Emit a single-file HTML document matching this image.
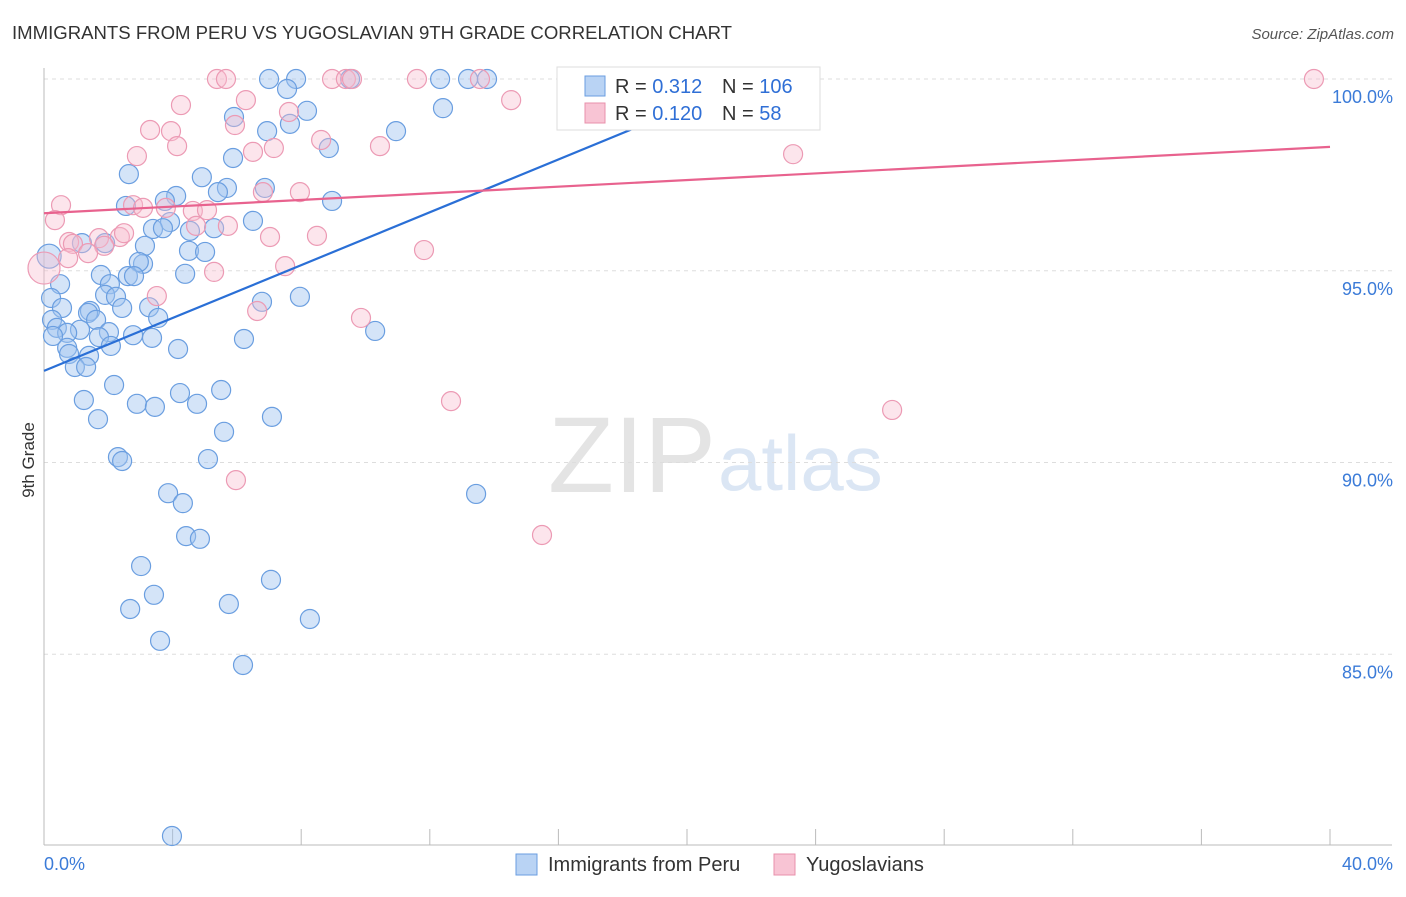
<!DOCTYPE html>
<html><head><meta charset="utf-8"><style>
body{margin:0;background:#fff;font-family:"Liberation Sans",sans-serif}
svg text{font-family:"Liberation Sans",sans-serif}
</style></head><body>
<svg width="1406" height="892" xmlns="http://www.w3.org/2000/svg" id="chart">
<text x="12" y="39" font-size="18" fill="#333" textLength="720" lengthAdjust="spacingAndGlyphs">IMMIGRANTS FROM PERU VS YUGOSLAVIAN 9TH GRADE CORRELATION CHART</text>
<text x="1394" y="39" font-size="15" fill="#555" font-style="italic" text-anchor="end">Source: ZipAtlas.com</text>
<text x="34" y="460" font-size="17" fill="#333" transform="rotate(-90 34 460)" text-anchor="middle">9th Grade</text>
<text x="716" y="492" font-size="108" fill="#e4e4e4" text-anchor="end" font-family="Liberation Serif">ZIP</text>
<text x="718" y="490" font-size="78" fill="#dbe6f4">atlas</text>
<g id="grid"></g><g id="axes"></g><g id="pts"></g><g id="lines"></g>
<g>
<rect x="557" y="67" width="263" height="63" fill="#fff" stroke="#ddd"/>
<rect x="585" y="76" width="20" height="20" fill="#b9d3f4" stroke="#6a9ee0"/>
<rect x="585" y="103" width="20" height="20" fill="#f8c4d4" stroke="#e890ab"/>
<text x="615" y="93" font-size="20" fill="#333">R = <tspan fill="#2f6fd6">0.312</tspan></text>
<text x="722" y="93" font-size="20" fill="#333">N = <tspan fill="#2f6fd6">106</tspan></text>
<text x="615" y="120" font-size="20" fill="#333">R = <tspan fill="#2f6fd6">0.120</tspan></text>
<text x="722" y="120" font-size="20" fill="#333">N = <tspan fill="#2f6fd6">  58</tspan></text>
</g>
<g>
<rect x="516" y="854" width="21" height="21" fill="#b9d3f4" stroke="#6a9ee0"/>
<text x="548" y="871" font-size="20" fill="#333">Immigrants from Peru</text>
<rect x="774" y="854" width="21" height="21" fill="#f8c4d4" stroke="#e890ab"/>
<text x="806" y="871" font-size="20" fill="#333">Yugoslavians</text>
</g>
</svg>
<script>
const yTicks=[100,95,90,85];
const xTickLabels=["0.0%","40.0%"];
const peruX=[7.00,7.84,12.32,13.19,13.78,16.42,9.52,7.56,5.91,12.41,8.18,6.94,7.65,10.95,8.86,5.88,2.64,4.91,6.87,5.69,5.41,4.11,3.76,2.55,8.96,6.50,3.92,3.39,5.29,4.54,3.70,1.18,1.90,3.14,4.51,5.01,0.16,3.08,2.95,1.77,2.61,4.39,2.80,2.05,0.50,1.90,2.24,0.22,7.96,6.78,3.27,0.56,1.43,2.43,0.25,1.37,3.55,0.40,1.62,1.12,0.72,2.02,2.77,3.36,6.22,10.30,1.71,0.28,0.72,2.08,1.40,0.78,4.17,0.96,1.31,2.18,4.23,5.51,1.24,2.89,4.76,3.45,1.68,7.09,5.60,2.30,2.43,5.10,3.86,4.32,13.44,4.42,4.85,3.02,7.06,3.42,2.68,5.75,8.27,3.61,6.19,3.98];
const peruY=[100,100,100,100,100,100,100,99.74,99.01,99.24,99.17,98.64,98.83,98.64,98.20,97.94,97.52,97.44,97.16,97.16,97.05,96.95,96.82,96.69,96.82,96.30,96.27,96.09,96.11,96.04,96.11,95.72,95.72,95.65,95.52,95.49,95.38,95.18,95.23,94.89,94.86,94.92,94.86,94.65,94.65,94.37,94.32,94.29,94.32,94.19,94.05,94.03,93.95,94.03,93.72,93.90,93.77,93.51,93.72,93.46,93.38,93.40,93.32,93.25,93.22,93.43,93.27,93.30,92.99,93.04,92.78,92.83,92.96,92.49,92.49,92.02,91.81,91.89,91.63,91.53,91.53,91.45,91.13,91.19,90.80,90.14,90.04,90.09,89.20,88.94,89.18,88.08,88.01,87.30,86.94,86.55,86.18,86.31,85.92,85.35,84.72,80.26];
const yugoX=[5.38,5.66,8.96,9.39,9.58,11.60,13.56,20.65,39.50,4.26,6.28,7.62,14.53,3.30,3.95,5.94,4.14,8.62,10.45,2.89,6.50,7.15,23.30,0.53,0.34,2.77,3.79,4.63,5.07,6.81,7.96,5.72,4.73,8.49,7.03,2.36,1.71,0.78,1.87,0.90,1.37,0.75,2.49,3.08,3.51,0.00,5.29,7.50,11.82,6.63,9.86,12.66,5.97,15.49,26.38];
const yugoY=[100,100,100,100,100,100,100,100,100,99.32,99.45,99.14,99.45,98.67,98.64,98.80,98.25,98.41,98.25,97.99,98.10,98.20,98.04,96.71,96.32,96.71,96.64,96.56,96.58,97.05,97.05,96.17,96.17,95.91,95.88,95.88,95.85,95.75,95.65,95.70,95.46,95.33,95.98,96.64,94.34,95.07,94.97,95.12,95.54,93.95,93.77,91.60,89.54,88.11,91.37];
const peruTrend=[[0,92.39],[20.87,99.58]];
const yugoTrend=[[0,96.5],[40,98.23]];
const NS="http://www.w3.org/2000/svg";
const X=v=>44+v/40*1286, Y=v=>79+(100-v)*38.35;
function mk(t,a,p){const e=document.createElementNS(NS,t);for(const k in a)e.setAttribute(k,a[k]);document.getElementById(p).appendChild(e);return e;}
yTicks.forEach(t=>{
 const l=mk('line',{x1:44,x2:1392,y1:Y(t),y2:Y(t),stroke:'#ddd','stroke-dasharray':'4,4'},'grid');
 
 
 const tx=mk('text',{x:1393,y:Y(t)+24,'font-size':18,fill:'#3b7bd8','text-anchor':'end'},'axes');
 tx.textContent=t.toFixed(1)+'%';
 
 
});
mk('line',{x1:44,x2:44,y1:68,y2:845,stroke:'#bbb'},'axes');
mk('line',{x1:44,x2:1392,y1:845,y2:845,stroke:'#bbb'},'axes');
for(let i=0;i<=10;i++){const l=mk('line',{x1:X(i*4),x2:X(i*4),y1:829,y2:845,stroke:'#bbb'},'axes');
 
 }
const xl0=mk('text',{x:44,y:870,'font-size':18,fill:'#3b7bd8'},'axes');xl0.textContent=xTickLabels[0];


const xl1=mk('text',{x:1393,y:870,'font-size':18,fill:'#3b7bd8','text-anchor':'end'},'axes');xl1.textContent=xTickLabels[1];


peruX.forEach((v,i)=>{const c=mk('circle',{cx:X(v),cy:Y(peruY[i]),r:i==36?12:9.5,fill:'rgba(160,196,240,0.45)',stroke:'#6a9ee0','stroke-width':1.2},'pts');
 
 });
yugoX.forEach((v,i)=>{const c=mk('circle',{cx:X(v),cy:Y(yugoY[i]),r:i==45?16:9.5,fill:'rgba(248,190,208,0.4)',stroke:'#ec9ab4','stroke-width':1.2},'pts');
 
 });
const bl=mk('line',{x1:X(peruTrend[0][0]),y1:Y(peruTrend[0][1]),x2:X(peruTrend[1][0]),y2:Y(peruTrend[1][1]),stroke:'#2a6fd6','stroke-width':2.2},'lines');


const pl=mk('line',{x1:X(yugoTrend[0][0]),y1:Y(yugoTrend[0][1]),x2:X(yugoTrend[1][0]),y2:Y(yugoTrend[1][1]),stroke:'#e8628e','stroke-width':2.2},'lines');


</script>
</body></html>
